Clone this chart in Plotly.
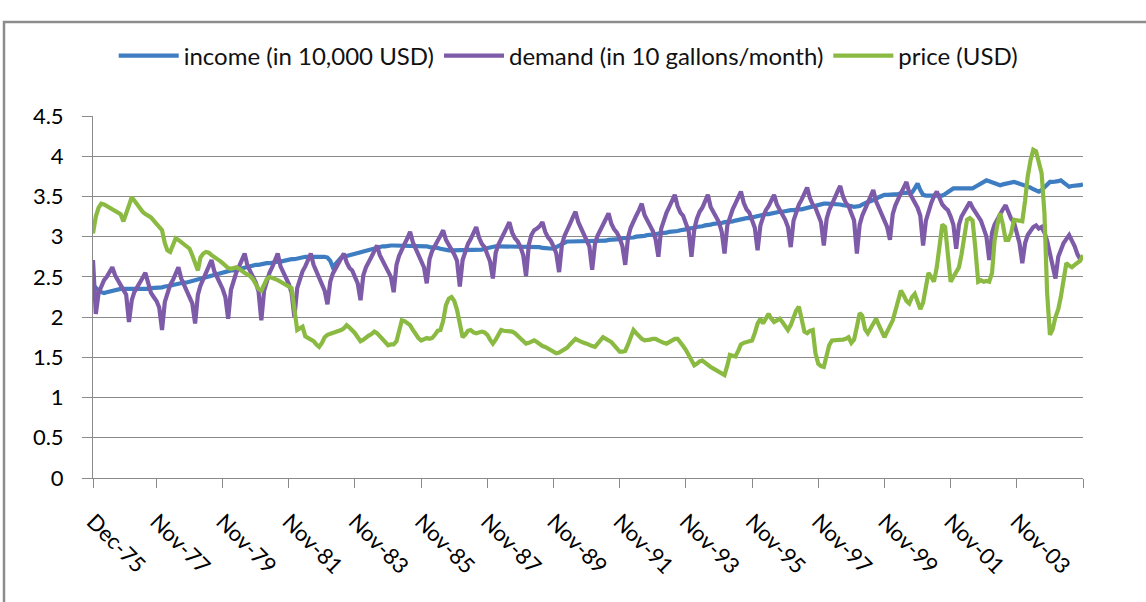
import pandas as pd
import plotly.graph_objects as go

months = pd.date_range("1975-12-01", periods=360, freq="MS")

tick_labels = ["Dec-75", "Nov-77", "Nov-79", "Nov-81", "Nov-83", "Nov-85", "Nov-87",
               "Nov-89", "Nov-91", "Nov-93", "Nov-95", "Nov-97", "Nov-99", "Nov-01",
               "Nov-03", ""]
tick_dates = ["1975-12-01", "1977-11-01", "1979-11-01", "1981-11-01", "1983-11-01",
              "1985-11-01", "1987-11-01", "1989-11-01", "1991-11-01", "1993-11-01",
              "1995-11-01", "1997-11-01", "1999-11-01", "2001-11-01", "2003-11-01",
              "2005-11-01"]

income = [
    2.40, 2.36, 2.33, 2.31, 2.30, 2.31, 2.32, 2.33, 2.34, 2.34, 2.35, 2.35,
    2.35, 2.35, 2.35, 2.34, 2.35, 2.35, 2.35, 2.35, 2.35, 2.36, 2.36, 2.36,
    2.36, 2.37, 2.38, 2.38, 2.39, 2.40, 2.41, 2.41, 2.42, 2.43, 2.43, 2.44,
    2.45, 2.46, 2.47, 2.48, 2.49, 2.50, 2.51, 2.51, 2.52, 2.53, 2.54, 2.55,
    2.56, 2.57, 2.58, 2.58, 2.59, 2.60, 2.61, 2.62, 2.62, 2.63, 2.64, 2.65,
    2.65, 2.66, 2.66, 2.67, 2.67, 2.68, 2.68, 2.69, 2.69, 2.70, 2.70, 2.71,
    2.72, 2.72, 2.73, 2.73, 2.74, 2.75, 2.75, 2.75, 2.75, 2.75, 2.75, 2.76,
    2.75, 2.74, 2.70, 2.62, 2.66, 2.71, 2.74, 2.75, 2.76, 2.77, 2.78, 2.79,
    2.80, 2.81, 2.82, 2.83, 2.84, 2.85, 2.85, 2.86, 2.87, 2.88, 2.88, 2.89,
    2.89, 2.89, 2.89, 2.89, 2.88, 2.88, 2.88, 2.88, 2.88, 2.89, 2.88, 2.88,
    2.88, 2.88, 2.87, 2.87, 2.86, 2.86, 2.85, 2.84, 2.84, 2.83, 2.83, 2.83,
    2.83, 2.83, 2.83, 2.83, 2.83, 2.83, 2.83, 2.83, 2.83, 2.84, 2.85, 2.86,
    2.87, 2.88, 2.88, 2.88, 2.88, 2.88, 2.88, 2.88, 2.88, 2.88, 2.88, 2.88,
    2.88, 2.88, 2.88, 2.88, 2.88, 2.87, 2.87, 2.86, 2.86, 2.85, 2.85, 2.85,
    2.87, 2.89, 2.91, 2.93, 2.94, 2.94, 2.94, 2.94, 2.94, 2.94, 2.94, 2.94,
    2.94, 2.94, 2.94, 2.94, 2.94, 2.95, 2.95, 2.96, 2.96, 2.97, 2.97, 2.97,
    2.98, 2.98, 2.98, 2.98, 2.99, 3.00, 3.00, 3.01, 3.01, 3.02, 3.02, 3.03,
    3.03, 3.04, 3.04, 3.05, 3.05, 3.06, 3.06, 3.07, 3.07, 3.08, 3.08, 3.09,
    3.10, 3.10, 3.11, 3.12, 3.12, 3.13, 3.14, 3.14, 3.15, 3.16, 3.16, 3.17,
    3.17, 3.18, 3.18, 3.19, 3.19, 3.20, 3.21, 3.22, 3.22, 3.23, 3.23, 3.24,
    3.25, 3.25, 3.26, 3.27, 3.28, 3.28, 3.29, 3.30, 3.30, 3.31, 3.31, 3.32,
    3.32, 3.33, 3.33, 3.34, 3.34, 3.34, 3.35, 3.35, 3.36, 3.37, 3.38, 3.39,
    3.40, 3.41, 3.41, 3.41, 3.41, 3.40, 3.40, 3.40, 3.39, 3.39, 3.38, 3.38,
    3.37, 3.37, 3.38, 3.40, 3.42, 3.43, 3.44, 3.45, 3.47, 3.49, 3.51, 3.52,
    3.52, 3.52, 3.53, 3.53, 3.53, 3.54, 3.54, 3.54, 3.54, 3.55, 3.60, 3.66,
    3.58, 3.52, 3.51, 3.51, 3.51, 3.51, 3.51, 3.51, 3.51, 3.53, 3.55, 3.58,
    3.60, 3.60, 3.60, 3.60, 3.60, 3.60, 3.61, 3.60, 3.62, 3.64, 3.66, 3.68,
    3.70, 3.69, 3.68, 3.66, 3.65, 3.64, 3.65, 3.66, 3.67, 3.68, 3.68, 3.67,
    3.66, 3.65, 3.64, 3.62, 3.61, 3.59, 3.57, 3.56, 3.58, 3.62, 3.65, 3.68,
    3.68, 3.68, 3.69, 3.70, 3.67, 3.64, 3.62, 3.63, 3.63, 3.63, 3.64, 3.65,
]

demand = [
    2.71,
    2.04, 2.30, 2.39, 2.46, 2.50, 2.56, 2.62, 2.52, 2.46, 2.42, 2.36, 2.28,
    1.94, 2.21, 2.31, 2.38, 2.43, 2.49, 2.55, 2.42, 2.30, 2.25, 2.20, 2.12,
    1.84, 2.19, 2.31, 2.40, 2.46, 2.54, 2.62, 2.48, 2.40, 2.35, 2.27, 2.17,
    1.92, 2.28, 2.39, 2.49, 2.55, 2.63, 2.71, 2.57, 2.49, 2.44, 2.35, 2.25,
    1.98, 2.34, 2.47, 2.56, 2.63, 2.71, 2.79, 2.64, 2.56, 2.51, 2.43, 2.32,
    1.96, 2.33, 2.45, 2.55, 2.62, 2.70, 2.79, 2.63, 2.55, 2.50, 2.41, 2.30,
    2.00, 2.36, 2.47, 2.57, 2.63, 2.71, 2.79, 2.65, 2.57, 2.52, 2.43, 2.33,
    2.16, 2.44, 2.54, 2.61, 2.66, 2.73, 2.79, 2.68, 2.61, 2.58, 2.51, 2.42,
    2.21, 2.52, 2.62, 2.70, 2.75, 2.82, 2.89, 2.77, 2.70, 2.66, 2.58, 2.50,
    2.31, 2.65, 2.76, 2.85, 2.91, 2.98, 3.06, 2.93, 2.85, 2.80, 2.72, 2.62,
    2.42, 2.72, 2.82, 2.90, 2.95, 3.01, 3.08, 2.96, 2.90, 2.86, 2.78, 2.70,
    2.38, 2.71, 2.82, 2.91, 2.97, 3.05, 3.12, 2.99, 2.91, 2.87, 2.79, 2.69,
    2.48, 2.80, 2.90, 2.98, 3.04, 3.11, 3.18, 3.05, 2.98, 2.94, 2.87, 2.77,
    2.51, 2.90, 3.02, 3.08, 3.10, 3.13, 3.18, 3.06, 2.99, 2.95, 2.88, 2.79,
    2.56, 2.90, 3.01, 3.10, 3.16, 3.24, 3.31, 3.18, 3.10, 3.05, 2.97, 2.88,
    2.59, 2.91, 3.01, 3.09, 3.15, 3.22, 3.29, 3.16, 3.09, 3.05, 2.98, 2.88,
    2.65, 2.99, 3.11, 3.20, 3.26, 3.33, 3.41, 3.27, 3.20, 3.15, 3.07, 2.97,
    2.75, 3.10, 3.21, 3.30, 3.37, 3.44, 3.52, 3.38, 3.30, 3.26, 3.17, 3.07,
    2.75, 3.09, 3.22, 3.31, 3.36, 3.45, 3.52, 3.37, 3.31, 3.25, 3.18, 3.06,
    2.79, 3.14, 3.25, 3.34, 3.41, 3.48, 3.56, 3.42, 3.34, 3.30, 3.21, 3.11,
    2.83, 3.14, 3.24, 3.33, 3.38, 3.45, 3.52, 3.40, 3.33, 3.29, 3.21, 3.12,
    2.87, 3.20, 3.31, 3.40, 3.46, 3.54, 3.61, 3.48, 3.40, 3.36, 3.28, 3.18,
    2.89, 3.22, 3.33, 3.42, 3.48, 3.56, 3.63, 3.50, 3.42, 3.38, 3.30, 3.20,
    2.79, 3.15, 3.26, 3.36, 3.42, 3.50, 3.58, 3.44, 3.36, 3.31, 3.22, 3.12,
    2.96, 3.28, 3.39, 3.48, 3.54, 3.61, 3.68, 3.55, 3.48, 3.44, 3.36, 3.26,
    2.89, 3.20, 3.33, 3.42, 3.50, 3.56, 3.48, 3.40, 3.36, 3.33, 3.25, 3.15,
    2.85, 3.15, 3.25, 3.32, 3.38, 3.43, 3.36, 3.30, 3.26, 3.20, 3.10, 3.00,
    2.71, 3.05, 3.15, 3.22, 3.28, 3.34, 3.39, 3.30, 3.22, 3.18, 3.05, 2.92,
    2.67, 2.92, 3.02, 3.08, 3.12, 3.14, 3.10, 3.12, 3.05, 2.95, 2.80, 2.65,
    2.48, 2.75, 2.85, 2.92, 2.97, 3.02, 2.95, 2.88, 2.78, 2.72, 2.75,
]

price = [
    3.04, 3.25, 3.36, 3.41, 3.40, 3.38, 3.37, 3.35, 3.33, 3.31, 3.28, 3.19,
    3.30, 3.42, 3.49, 3.45, 3.40, 3.35, 3.31, 3.28, 3.26, 3.24, 3.20, 3.16,
    3.12, 3.08, 2.92, 2.83, 2.81, 2.88, 2.98, 2.96, 2.93, 2.91, 2.88, 2.85,
    2.77, 2.67, 2.58, 2.74, 2.79, 2.81, 2.80, 2.77, 2.75, 2.72, 2.70, 2.67,
    2.64, 2.61, 2.60, 2.61, 2.62, 2.60, 2.57, 2.55, 2.53, 2.51, 2.47, 2.40,
    2.35, 2.33, 2.40, 2.47, 2.50, 2.49, 2.47, 2.46, 2.44, 2.42, 2.40, 2.39,
    2.36, 2.10, 1.84, 1.86, 1.88, 1.76, 1.74, 1.72, 1.70, 1.66, 1.63, 1.68,
    1.75, 1.78, 1.79, 1.80, 1.81, 1.82, 1.84, 1.86, 1.90, 1.87, 1.84, 1.80,
    1.75, 1.70, 1.72, 1.75, 1.77, 1.79, 1.82, 1.80, 1.76, 1.72, 1.68, 1.65,
    1.66, 1.66, 1.70, 1.85, 1.96, 1.95, 1.93, 1.90, 1.84, 1.78, 1.74, 1.71,
    1.72, 1.74, 1.73, 1.74, 1.78, 1.83, 1.84, 1.95, 2.15, 2.23, 2.25, 2.20,
    2.09, 1.90, 1.75, 1.78, 1.83, 1.84, 1.81, 1.80, 1.81, 1.82, 1.81, 1.78,
    1.72, 1.67, 1.72, 1.79, 1.84, 1.83, 1.83, 1.82, 1.82, 1.80, 1.77, 1.73,
    1.70, 1.67, 1.68, 1.70, 1.71, 1.69, 1.66, 1.64, 1.63, 1.61, 1.58, 1.56,
    1.55, 1.56, 1.58, 1.59, 1.62, 1.66, 1.70, 1.73, 1.71, 1.69, 1.68, 1.67,
    1.65, 1.64, 1.63, 1.67, 1.72, 1.75, 1.73, 1.71, 1.69, 1.65, 1.60, 1.57,
    1.57, 1.58, 1.66, 1.76, 1.84, 1.80, 1.76, 1.73, 1.71, 1.71, 1.72, 1.73,
    1.73, 1.71, 1.69, 1.68, 1.67, 1.69, 1.71, 1.73, 1.73, 1.69, 1.64, 1.59,
    1.52, 1.45, 1.40, 1.42, 1.45, 1.46, 1.43, 1.40, 1.38, 1.36, 1.34, 1.31,
    1.29, 1.28, 1.40, 1.53, 1.52, 1.51, 1.58, 1.66, 1.68, 1.69, 1.70, 1.71,
    1.80, 1.92, 1.98, 1.92, 1.98, 2.04, 1.98, 1.94, 1.96, 1.98, 1.94, 1.89,
    1.84, 1.90, 2.00, 2.08, 2.13, 1.98, 1.82, 1.80, 1.83, 1.84, 1.55, 1.42,
    1.39, 1.38, 1.50, 1.65, 1.71, 1.71, 1.71, 1.71, 1.72, 1.73, 1.75, 1.68,
    1.72, 1.88, 2.05, 2.02, 1.85, 1.80, 1.86, 1.93, 1.98, 1.90, 1.81, 1.75,
    1.82, 1.89, 1.96, 2.08, 2.22, 2.33, 2.27, 2.20, 2.17, 2.25, 2.29, 2.20,
    2.10, 2.18, 2.35, 2.55, 2.50, 2.44, 2.62, 2.90, 3.15, 3.12, 2.75, 2.44,
    2.50, 2.56, 2.62, 2.78, 3.05, 3.21, 3.23, 3.20, 2.85, 2.44, 2.46, 2.44,
    2.45, 2.44, 2.55, 2.95, 3.15, 3.29, 3.15, 2.96, 2.96, 3.05, 3.21, 3.20,
    3.19, 3.19, 3.45, 3.75, 3.95, 4.08, 4.06, 3.90, 3.79, 3.30, 2.30, 1.78,
    1.85, 2.00, 2.10, 2.25, 2.45, 2.67, 2.64, 2.62, 2.65, 2.67, 2.70, 2.77,
]

series_names = ["income (in 10,000 USD)", "demand (in 10 gallons/month)", "price (USD)"]
series_colors = ["#3E7DC1", "#7D5BA8", "#8BBA42"]

FONT = "Lato, Open Sans, sans-serif"
GRID = "#8A8A8A"

fig = go.Figure()
for name, vals, col in zip(series_names, [income, demand, price], series_colors):
    fig.add_trace(go.Scatter(x=months, y=vals, mode="lines", name=name,
                             line=dict(color=col, width=4.2)))

W, H = 1146, 602
L, R, T, B = 93, 63, 116, 124
pw, ph = W - L - R, H - T - B

def px_to_paper(xp, yp):
    return (xp - L) / pw, (H - B - yp) / ph

x0, y0 = px_to_paper(4, 22)
x1, y1 = px_to_paper(1160, 640)
fig.add_shape(type="rect", xref="paper", yref="paper", x0=x0, y0=y1, x1=x1, y1=y0,
              line=dict(color="#8C8C8C", width=2.5), fillcolor="rgba(0,0,0,0)", layer="below")

fig.update_layout(
    width=W, height=H,
    margin=dict(l=L, r=R, t=T, b=B, pad=0),
    paper_bgcolor="white", plot_bgcolor="white",
    font=dict(family=FONT, size=20, color="#000000"),
    showlegend=True,
    legend=dict(orientation="h", x=0.480, xanchor="center", y=px_to_paper(0, 56)[1],
                yanchor="middle", font=dict(size=24, family=FONT, color="#111111"),
                itemwidth=60, traceorder="normal", bgcolor="rgba(0,0,0,0)"),
    xaxis=dict(
        type="date", range=[months[0], months[-1]],
        tickmode="array", tickvals=tick_dates, ticktext=tick_labels,
        tickangle=45, ticks="outside", ticklen=9, tickcolor=GRID, tickwidth=1,
        showline=True, linecolor=GRID, linewidth=1, showgrid=False, zeroline=False,
        tickfont=dict(size=22, family=FONT, color="#000000"),
        ticklabelstandoff=12,
    ),
    yaxis=dict(
        range=[0, 4.5], tickmode="linear", tick0=0, dtick=0.5,
        ticks="outside", ticklen=10, tickcolor=GRID, tickwidth=1,
        showline=True, linecolor=GRID, linewidth=1,
        showgrid=True, gridcolor=GRID, gridwidth=1, zeroline=False,
        tickfont=dict(size=22, family=FONT, color="#000000"),
        ticklabelstandoff=14,
    ),
)

fig.write_html("out.html", config={"displayModeBar": False},
               post_script="document.body.style.margin='0px';")
